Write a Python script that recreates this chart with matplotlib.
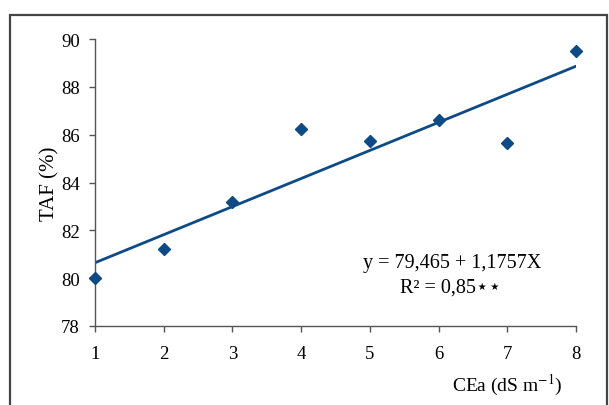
import numpy as np
import matplotlib
matplotlib.use("Agg")
import matplotlib.pyplot as plt
from matplotlib.patches import Rectangle

plt.rcParams['font.family'] = ['Liberation Serif', 'DejaVu Sans']
plt.rcParams['mathtext.fontset'] = 'stix'

# salinity levels and TAF readings
cea = [1, 2, 3, 4, 5, 6, 7, 8]
taf = [80.0, 81.2, 83.2, 86.25, 85.75, 86.6, 85.65, 89.5]

# fitted regression
b0 = 79.465
b1 = 1.1757
eq_text = "y = 79,465 + 1,1757X"
r2_text = "R\u00b2 = 0,85\u22c6\u22c6"

yticks = [78, 80, 82, 84, 86, 88, 90]
xticks = [1, 2, 3, 4, 5, 6, 7, 8]

blue = "#0d4a86"

fig = plt.figure(figsize=(6.09, 4.06), dpi=100)
ax = fig.add_axes([0.156, 0.195, 0.790, 0.706])

# outer frame around the chart
fig.patches.append(Rectangle((10/609, -0.05), 597/609, 1.05 - 16/406,
                             transform=fig.transFigure, fill=False,
                             edgecolor="#444444", linewidth=1.6))

xs = np.array([cea[0], cea[-1]])
ax.plot(xs, b0 + b1*xs, color=blue, linewidth=2, zorder=2)
ax.plot(cea, taf, linestyle="none", marker="D", markersize=6,
        color=blue, clip_on=False, zorder=3)

ax.set_xlim(1, 8)
ax.set_ylim(78, 90)
ax.set_xticks(xticks)
ax.set_yticks(yticks)
for s in ["top", "right"]:
    ax.spines[s].set_visible(False)
for s in ["left", "bottom"]:
    ax.spines[s].set_color("#555555")
    ax.spines[s].set_linewidth(1)
ax.tick_params(direction="out", length=4, width=1, color="#555555",
               labelsize=13.5)
ax.tick_params(axis="x", pad=10)
ax.tick_params(axis="y", pad=7)

ax.set_ylabel("TAF (%)", fontsize=15, labelpad=1)
fig.text(507/609, 1 - 385/406, "CEa (dS m$^{-1}$)", fontsize=14,
         ha="center", va="center")

ax.text(0.742, 0.22, eq_text, transform=ax.transAxes, fontsize=14.5,
        ha="center", va="center")
ax.text(0.74, 0.135, r2_text, transform=ax.transAxes, fontsize=14.5,
        ha="center", va="center")

fig.savefig("out.png", dpi=100)
